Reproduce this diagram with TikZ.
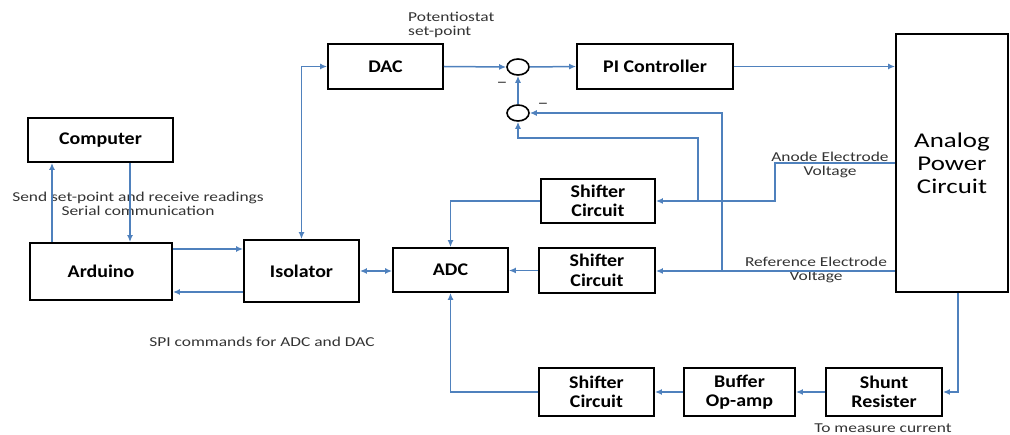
\documentclass[tikz,border=0pt]{standalone}
\usepackage{fontspec}
\setmainfont{Carlito}[FakeStretch=1.12]
\newfontfamily\notefont{Carlito}[FakeStretch=1.28]
\usepackage{xcolor}
\usetikzlibrary{arrows.meta,positioning,calc,shapes.geometric}
\definecolor{wireblue}{RGB}{79,129,189}

\begin{document}
\begin{tikzpicture}[x=1pt,y=-1pt,
    block/.style={draw, line width=1.8pt, rectangle, align=center, inner sep=0pt,
        font=\fontsize{17.8}{19.5}\selectfont\bfseries},
    junc/.style={draw, line width=1.6pt, ellipse, minimum width=22pt, minimum height=16pt, inner sep=0pt},
    wire/.style={wireblue, line width=1.5pt, -{Latex[length=7pt,width=6pt]}},
    wire2/.style={wire, {Latex[length=7pt,width=6pt]}-{Latex[length=7pt,width=6pt]}},
    note/.style={font=\notefont\fontsize{13.6}{14.5}\selectfont, text=black!80, align=center, inner sep=0pt}]
    \useasboundingbox (0,0) rectangle (1010,435);

    % blocks
    \node[block, minimum width=145pt, minimum height=44pt] (computer) at (100.5,140) {Computer};
    \node[block, minimum width=142pt, minimum height=57pt] (arduino) at (101,271.5) {Arduino};
    \node[block, minimum width=115pt, minimum height=62pt] (isolator) at (301.5,271) {Isolator};
    \node[block, minimum width=115pt, minimum height=44pt] (adc) at (450.5,270) {ADC};
    \node[block, minimum width=115pt, minimum height=45pt] (dac) at (385.5,66.5) {DAC};
    \node[block, minimum width=156pt, minimum height=45pt] (pictrl) at (655,66.5) {PI Controller};
    \node[block, minimum width=112pt, minimum height=258pt,
        font=\notefont\fontsize{21}{23}\selectfont] (analog) at (952,163) {Analog\\Power\\Circuit};
    \node[block, minimum width=114pt, minimum height=44pt] (shiftA) at (598,201) {Shifter\\Circuit};
    \node[block, minimum width=116pt, minimum height=45pt] (shiftR) at (597,270.5) {Shifter\\Circuit};
    \node[block, minimum width=115pt, minimum height=48pt] (shiftI) at (596.5,392) {Shifter\\Circuit};
    \node[block, minimum width=111pt, minimum height=48pt] (buffer) at (739.5,392) {Buffer\\Op-amp};
    \node[block, minimum width=116pt, minimum height=48pt] (shunt) at (884,392) {Shunt\\Resister};

    % summing junctions
    \node[junc] (sumA) at (518,67) {};
    \node[junc] (sumB) at (518,113) {};

    % labels
    \node[note, anchor=west, align=left] (setpt) at (408,25) {Potentiostat\\set-point};
    \node[note] (serial) at (138,204) {Send set-point and receive readings\\Serial communication};
    \node[note] (spi) at (262,342) {SPI commands for ADC and DAC};
    \node[note] (anodelbl) at (830,165) {Anode Electrode\\Voltage};
    \node[note] (reflbl) at (816,270) {Reference Electrode\\Voltage};
    \node[note] (curlbl) at (883,428) {To measure current};
    \node[note, font=\notefont\fontsize{17}{17}\selectfont] (minusA) at (502,85) {\textendash};
    \node[note, font=\notefont\fontsize{17}{17}\selectfont] (minusB) at (543,106) {\textendash};

    % helper points
    \coordinate (ajog) at (775,201);
    \coordinate (tapA) at (698,201);
    \coordinate (loopA) at (698,138);
    \coordinate (tapR) at (722,271);

    % computer side
    \draw[wire] ([xshift=-49pt]arduino.north) -- ([xshift=-49pt]arduino.north |- computer.south);
    \draw[wire] ([xshift=29.5pt]computer.south) -- ([xshift=29.5pt]computer.south |- arduino.north);
    \draw[wire] ([yshift=22.5pt]arduino.east) -- ([yshift=22.5pt]arduino.east -| isolator.west);
    \draw[wire] ([yshift=-21pt]isolator.west) -- ([yshift=-21pt]isolator.west -| arduino.east);
    \draw[wire2] (isolator.east) -- (isolator.east -| adc.west);
    \draw[wire2] (isolator.north) |- (dac.west);

    % control loop
    \draw[wire] (dac.east) -- (sumA.west);
    \draw[wire] (sumA.east) -- (pictrl.west);
    \draw[wire] (pictrl.east) -- (pictrl.east -| analog.west);
    \draw[wire] (sumB.north) -- (sumA.south);

    % electrode feedback
    \draw[wire] (analog.west) -| (ajog) -- (shiftA.east);
    \draw[wire] (analog.west |- tapR) -- (tapR -| shiftR.east);
    \draw[wire] (tapA) -- (loopA) -| (sumB.south);
    \draw[wire] (tapR) |- (sumB.east);
    \draw[wire] (shiftA.west) -| (adc.north);
    \draw[wire] (shiftR.west) -- (shiftR.west -| adc.east);

    % current measurement
    \draw[wire] ([xshift=6pt]analog.south) |- (shunt.east);
    \draw[wire] (shunt.west) -- (buffer.east);
    \draw[wire] (buffer.west) -- (shiftI.east);
    \draw[wire] (shiftI.west) -| (adc.south);
\end{tikzpicture}
\end{document}
